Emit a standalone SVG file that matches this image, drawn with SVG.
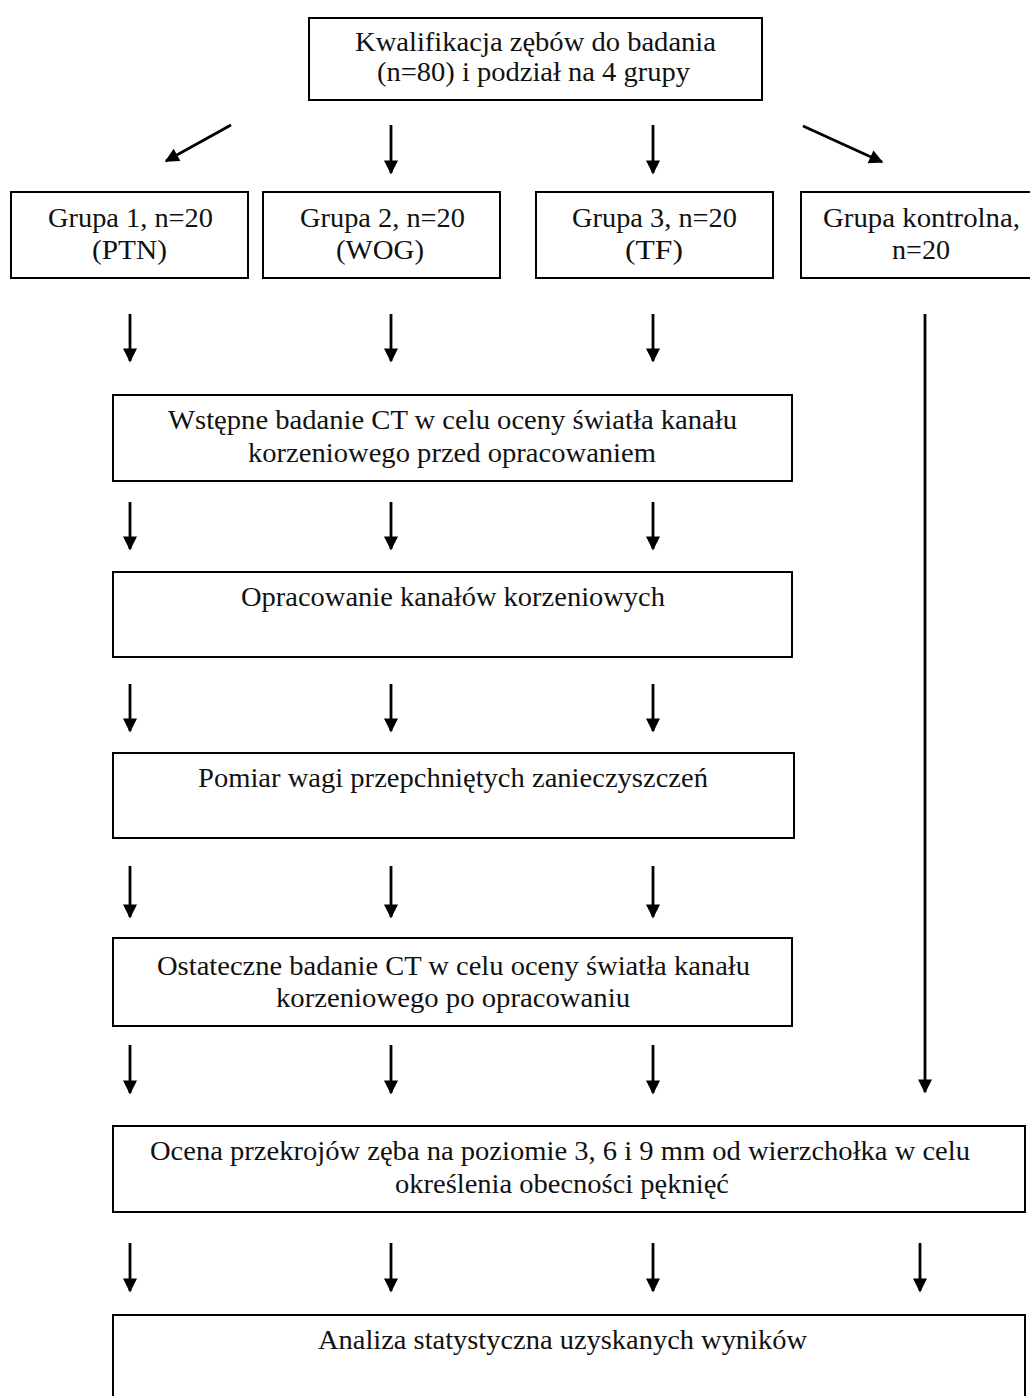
<svg xmlns="http://www.w3.org/2000/svg" width="1030" height="1396" viewBox="0 0 1030 1396">
<style>
.box{fill:#fff;stroke:#000;stroke-width:2}
.t{font-family:"Liberation Serif","Times New Roman",serif;font-size:27px;fill:#111;text-anchor:middle}
.c{stroke:#000;stroke-width:2.8;fill:none;marker-end:url(#ah)}
</style>
<defs>
<marker id="ah" viewBox="0 0 10 10" refX="9" refY="5" markerWidth="6" markerHeight="5" orient="auto" markerUnits="strokeWidth">
<path d="M0,0 L10,5 L0,10 z" fill="#000"/>
</marker>
</defs>
<rect width="1030" height="1396" fill="#fff"/>
<g id="n-top">
<rect class="box" x="309" y="18" width="453" height="82"/>
<text class="t" x="535.5" y="51" textLength="361" lengthAdjust="spacingAndGlyphs">Kwalifikacja zębów do badania</text>
<text class="t" x="533.5" y="81" textLength="313" lengthAdjust="spacingAndGlyphs">(n=80) i podział na 4 grupy</text>
</g>
<g id="n-g1">
<rect class="box" x="11" y="192" width="237" height="86"/>
<text class="t" x="130.5" y="227" textLength="165" lengthAdjust="spacingAndGlyphs">Grupa 1, n=20</text>
<text class="t" x="129.5" y="259" textLength="75" lengthAdjust="spacingAndGlyphs">(PTN)</text>
</g>
<g id="n-g2">
<rect class="box" x="263" y="192" width="237" height="86"/>
<text class="t" x="382.5" y="227" textLength="165" lengthAdjust="spacingAndGlyphs">Grupa 2, n=20</text>
<text class="t" x="380" y="259" textLength="88" lengthAdjust="spacingAndGlyphs">(WOG)</text>
</g>
<g id="n-g3">
<rect class="box" x="536" y="192" width="237" height="86"/>
<text class="t" x="654.5" y="227" textLength="165" lengthAdjust="spacingAndGlyphs">Grupa 3, n=20</text>
<text class="t" x="654" y="259" textLength="58" lengthAdjust="spacingAndGlyphs">(TF)</text>
</g>
<g id="n-gk">
<rect class="box" x="801" y="192" width="240" height="86"/>
<text class="t" x="921.5" y="227" textLength="197" lengthAdjust="spacingAndGlyphs">Grupa kontrolna,</text>
<text class="t" x="921" y="259" textLength="58" lengthAdjust="spacingAndGlyphs">n=20</text>
</g>
<g id="n-ct1">
<rect class="box" x="113" y="395" width="679" height="86"/>
<text class="t" x="452.5" y="429" textLength="569" lengthAdjust="spacingAndGlyphs">Wstępne badanie CT w celu oceny światła kanału</text>
<text class="t" x="452" y="462" textLength="408" lengthAdjust="spacingAndGlyphs">korzeniowego przed opracowaniem</text>
</g>
<g id="n-op">
<rect class="box" x="113" y="572" width="679" height="85"/>
<text class="t" x="453" y="606" textLength="424" lengthAdjust="spacingAndGlyphs">Opracowanie kanałów korzeniowych</text>
</g>
<g id="n-pom">
<rect class="box" x="113" y="753" width="681" height="85"/>
<text class="t" x="453" y="787" textLength="510" lengthAdjust="spacingAndGlyphs">Pomiar wagi przepchniętych zanieczyszczeń</text>
</g>
<g id="n-ct2">
<rect class="box" x="113" y="938" width="679" height="88"/>
<text class="t" x="453.5" y="975" textLength="593" lengthAdjust="spacingAndGlyphs">Ostateczne badanie CT w celu oceny światła kanału</text>
<text class="t" x="453" y="1007" textLength="354" lengthAdjust="spacingAndGlyphs">korzeniowego po opracowaniu</text>
</g>
<g id="n-oc">
<rect class="box" x="113" y="1126" width="912" height="86"/>
<text class="t" x="560" y="1160" textLength="820" lengthAdjust="spacingAndGlyphs">Ocena przekrojów zęba na poziomie 3, 6 i 9 mm od wierzchołka w celu</text>
<text class="t" x="562" y="1193" textLength="334" lengthAdjust="spacingAndGlyphs">określenia obecności pęknięć</text>
</g>
<g id="n-an">
<rect class="box" x="113" y="1315" width="912" height="100"/>
<text class="t" x="562.5" y="1349" textLength="489" lengthAdjust="spacingAndGlyphs">Analiza statystyczna uzyskanych wyników</text>
</g>
<g id="connectors">
<path class="c" d="M231,125 L166,161"/>
<path class="c" d="M391,125 L391,173"/>
<path class="c" d="M653,125 L653,173"/>
<path class="c" d="M803,126 L882,162"/>
<path class="c" d="M130,314 L130,361"/>
<path class="c" d="M391,314 L391,361"/>
<path class="c" d="M653,314 L653,361"/>
<path class="c" d="M925,314 L925,1092"/>
<path class="c" d="M130,502 L130,549"/>
<path class="c" d="M391,502 L391,549"/>
<path class="c" d="M653,502 L653,549"/>
<path class="c" d="M130,684 L130,731"/>
<path class="c" d="M391,684 L391,731"/>
<path class="c" d="M653,684 L653,731"/>
<path class="c" d="M130,866 L130,917"/>
<path class="c" d="M391,866 L391,917"/>
<path class="c" d="M653,866 L653,917"/>
<path class="c" d="M130,1045 L130,1093"/>
<path class="c" d="M391,1045 L391,1093"/>
<path class="c" d="M653,1045 L653,1093"/>
<path class="c" d="M130,1243 L130,1291"/>
<path class="c" d="M391,1243 L391,1291"/>
<path class="c" d="M653,1243 L653,1291"/>
<path class="c" d="M920,1243 L920,1291"/>
</g>
</svg>
